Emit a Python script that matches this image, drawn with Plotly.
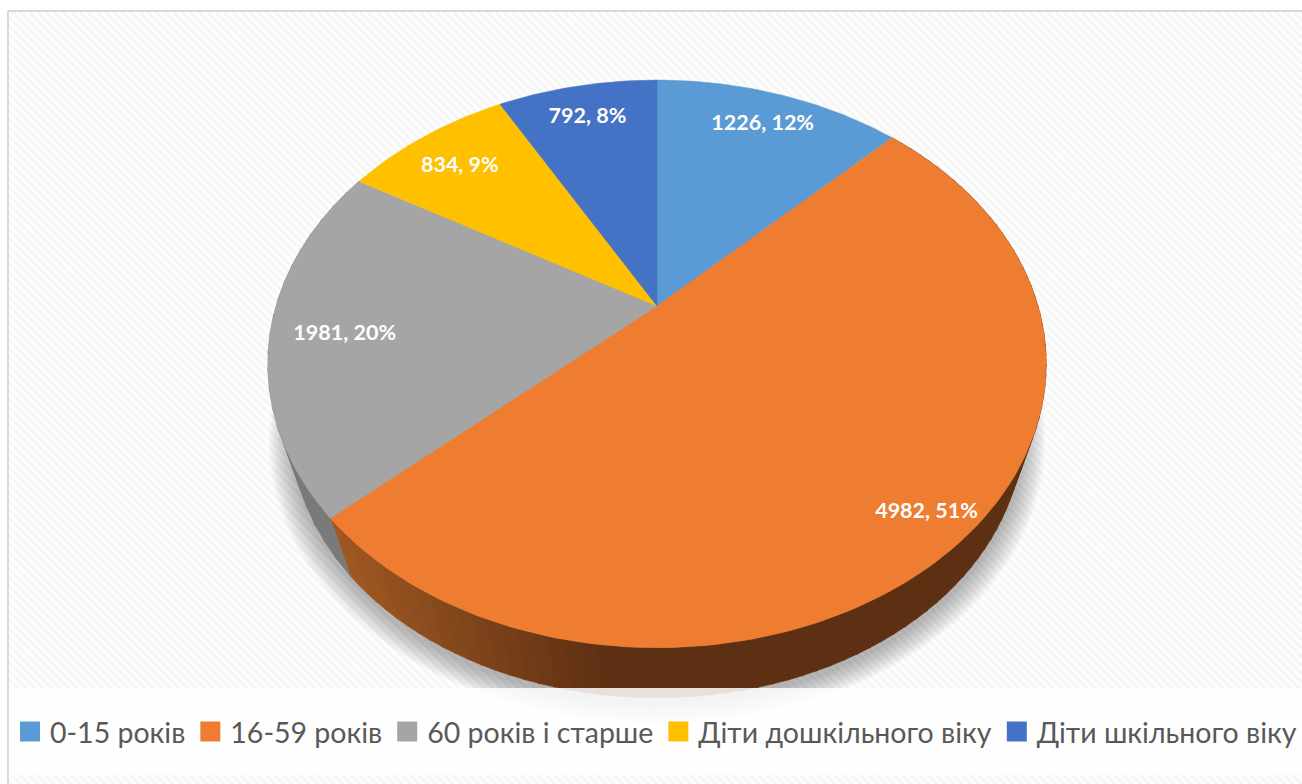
import math
import plotly.graph_objects as go

# ---- data ----
categories = ["0-15 років", "16-59 років", "60 років і старше", "Діти дошкільного віку", "Діти шкільного віку"]
values = [1226, 4982, 1981, 834, 792]
percent_labels = ["12%", "51%", "20%", "9%", "8%"]

# ---- style ----
colors = ["#5B9BD5", "#EE7D31", "#A5A5A5", "#FFC000", "#4472C4"]
label_radii = [0.84, 0.89, 0.81, 0.83, 0.85]
label_nudge = [1, 5, 5, 5, 3]
W, H = 1302, 784
CX, CY, RX, RY, K = 657.0, 306.0, 381.0, 272.0, 0.204   # perspective pie projection
VP_Y, DEPTH = 1461.0, 0.0615                            # extrusion vanishing point


def project(theta, r=1.0):
    u, v = r * math.sin(theta), r * math.cos(theta)
    w = 1 + K * v
    return CX + RX * u / w, CY - RY * v / w


def extrude(p, s=DEPTH):
    return p[0] + (CX - p[0]) * s, p[1] + (VP_Y - p[1]) * s


def mix(c1, c2, t):
    t = max(0.0, min(1.0, t))
    return "rgb(%d,%d,%d)" % tuple(round(a + (b - a) * t) for a, b in zip(c1, c2))


total = sum(values)
angles = [0.0]
for val in values:
    angles.append(angles[-1] + val / total * 2 * math.pi)

fig = go.Figure()

# hatched chart background
fig.add_trace(go.Scatter(
    x=[8, 1400, 1400, 8, 8], y=[11, 11, 900, 900, 11], mode="lines", fill="toself",
    line=dict(color="#D9D9D9", width=2), fillcolor="white",
    fillpattern=dict(shape="\\", size=6, solidity=0.5, fgcolor="#F6F6F6", bgcolor="white", fillmode="replace"),
    hoverinfo="skip", showlegend=False))

# soft shadow beneath the pie
N = 240
for k in range(12, 0, -1):
    grow = 1 + k * 0.0055
    xs, ys = [], []
    for i in range(N + 1):
        t = 2 * math.pi * i / N
        px, py = extrude(project(t, 1.0), DEPTH * 1.05)
        xs.append(CX + (px - CX) * grow)
        ys.append(CY + 56 + (py - CY - 56) * grow + 2)
    fig.add_trace(go.Scatter(x=xs, y=ys, mode="lines", fill="toself", line=dict(width=0),
                             fillcolor="rgba(70,70,70,0.04)", hoverinfo="skip", showlegend=False))

# extruded side of the orange and grey slices
for idx, dark0, dark1 in [(1, (160, 88, 34), (94, 48, 19)), (2, (125, 125, 125), (118, 118, 118))]:
    a0, a1 = angles[idx], angles[idx + 1]
    steps = 90 if idx == 1 else 20
    for i in range(steps):
        t0 = a0 + (a1 - a0) * i / steps
        t1 = a0 + (a1 - a0) * (i + 1.15) / steps
        p0, p1 = project(t0), project(min(t1, a1))
        q0, q1 = extrude(p0), extrude(p1)
        grad = (340 - p0[0]) / (340 - 610) if idx == 1 else 0.5
        col = mix(dark0, dark1, grad)
        fig.add_trace(go.Scatter(
            x=[p0[0], p1[0], q1[0], q0[0], p0[0]], y=[p0[1], p1[1], q1[1], q0[1], p0[1]],
            mode="lines", fill="toself", line=dict(width=0.5, color=col), fillcolor=col,
            hoverinfo="skip", showlegend=False))

# top face wedges
for i, (name, val, col) in enumerate(zip(categories, values, colors)):
    n = max(8, int((angles[i + 1] - angles[i]) * 60))
    pts = [project(angles[i] + (angles[i + 1] - angles[i]) * j / n) for j in range(n + 1)]
    xs = [CX] + [p[0] for p in pts] + [CX]
    ys = [CY] + [p[1] for p in pts] + [CY]
    fig.add_trace(go.Scatter(x=xs, y=ys, mode="lines", fill="toself", line=dict(width=0.5, color=col),
                             fillcolor=col, name=name, legendgroup=name, showlegend=False,
                             hovertemplate=f"{name}: {val}<extra></extra>"))

# slice labels
lx, ly, lt = [], [], []
for i, (val, pct, r, dy) in enumerate(zip(values, percent_labels, label_radii, label_nudge)):
    x, y = project((angles[i] + angles[i + 1]) / 2, r)
    lx.append(x); ly.append(y + dy); lt.append(f"{val}, {pct}")
fig.add_trace(go.Scatter(x=lx, y=ly, text=lt, mode="text", textposition="middle center",
                         textfont=dict(family="Lato", size=21.5, color="white", weight="bold"),
                         hoverinfo="skip", showlegend=False))

# legend entries
for name, col in zip(categories, colors):
    fig.add_trace(go.Scatter(x=[None], y=[None], mode="markers", name=name, legendgroup=name,
                             marker=dict(symbol="square", size=16, color=col, line=dict(width=4, color=col))))

fig.update_layout(
    width=W, height=H, margin=dict(l=0, r=0, t=0, b=0),
    paper_bgcolor="white", plot_bgcolor="white",
    xaxis=dict(range=[0, W], visible=False, fixedrange=True),
    yaxis=dict(range=[H, 0], visible=False, fixedrange=True),
    legend=dict(orientation="h", x=16 / W, y=1 - 732 / H, xanchor="left", yanchor="middle",
                font=dict(family="Lato", size=28.5, color="#595959"),
                bgcolor="rgba(0,0,0,0)", itemwidth=30, itemclick=False, itemdoubleclick=False),
    shapes=[dict(type="rect", xref="x", yref="y", x0=9, x1=W, y0=688, y1=775,
                 fillcolor="rgba(255,255,255,0.85)", line=dict(width=0), layer="above")],
)

fig.write_html("out.html", config={"displayModeBar": False},
               post_script="document.body.style.margin='0';document.documentElement.style.overflow='hidden';")
